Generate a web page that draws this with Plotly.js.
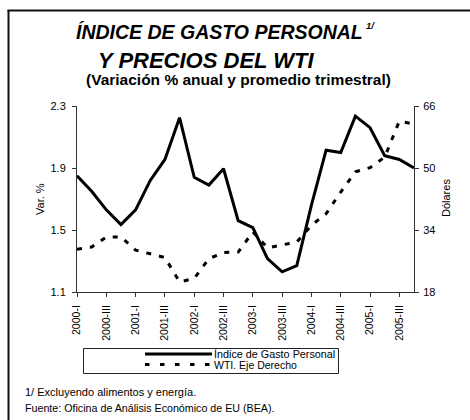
<!DOCTYPE html>
<html>
<head>
<meta charset="utf-8">
<script src="https://cdn.plot.ly/plotly-3.0.1.min.js"></script>
<style>
html,body{margin:0;padding:0;background:#fff;}
#chart{width:470px;height:420px;}
</style>
</head>
<body>
<div id="chart"></div>
<script>
// ---- data ----
const categories = [
  "2000-I","2000-II","2000-III","2000-IV",
  "2001-I","2001-II","2001-III","2001-IV",
  "2002-I","2002-II","2002-III","2002-IV",
  "2003-I","2003-II","2003-III","2003-IV",
  "2004-I","2004-II","2004-III","2004-IV",
  "2005-I","2005-II","2005-III","2005-IV"
];
const gastoPersonal = [1.85, 1.75, 1.63, 1.535, 1.63, 1.82, 1.955, 2.225,
  1.84, 1.79, 1.895, 1.56, 1.515, 1.315, 1.23, 1.27,
  1.66, 2.015, 2.0, 2.235, 2.16, 1.98, 1.955, 1.9];
const wti = [29.0, 29.6, 32.2, 32.2, 28.8, 27.9, 26.9, 20.6,
  21.5, 26.6, 28.2, 28.3, 33.5, 29.4, 30.2, 30.9,
  35.2, 38.2, 43.8, 49.0, 50.1, 52.8, 62.1, 61.3];
const xTickLabels = ["2000-I","2000-III","2001-I","2001-III","2002-I","2002-III",
  "2003-I","2003-III","2004-I","2004-III","2005-I","2005-III"];
const leftTicks = [1.1, 1.5, 1.9, 2.3];
const rightTicks = [18, 34, 50, 66];

const FONT = 'Arial, "Liberation Sans", Helvetica, sans-serif';
// plot area in pixels
const L = 77, R = 414, T = 106, B = 292;
const W = 470, H = 420;
const px = x => (x - L) / (R - L);
const py = y => (B - y) / (B - T);

const traces = [
  {x: categories, y: gastoPersonal, type: 'scatter', mode: 'lines',
   name: 'Índice de Gasto Personal', line: {color: '#000', width: 3}, yaxis: 'y'},
  {x: categories, y: wti, type: 'scatter', mode: 'lines',
   name: 'WTI. Eje Derecho', line: {color: '#000', width: 3, dash: '5px,8px'}, yaxis: 'y2'}
];

function ann(text, x, y, opts) {
  return Object.assign({text: text, x: px(x), y: py(y), xref: 'paper', yref: 'paper',
    showarrow: false, xanchor: 'left', yanchor: 'middle',
    font: {family: FONT, size: 11, color: '#000'}}, opts || {});
}

const annotations = [
  ann('<b><i>ÍNDICE DE GASTO PERSONAL</i></b>', 74, 32, {font: {family: FONT, size: 19.5, color: '#000'}}),
  ann('<b><i>1/</i></b>', 364, 26, {font: {family: FONT, size: 9.5, color: '#000'}}),
  ann('<b><i>Y PRECIOS DEL WTI</i></b>', 96, 60, {font: {family: FONT, size: 22, color: '#000'}}),
  ann('<b>(Variación % anual y promedio trimestral)</b>', 238, 80, {xanchor: 'center', font: {family: FONT, size: 15.5, color: '#000'}}),
  ann('Var. %', 40, 199, {xanchor: 'center', textangle: -90}),
  ann('Dólares', 446, 198, {xanchor: 'center', textangle: -90}),
  ann('Índice de Gasto Personal', 212, 354, {font: {family: FONT, size: 10.8, color: '#000'}}),
  ann('WTI. Eje Derecho', 212, 365, {font: {family: FONT, size: 10.5, color: '#000'}}),
  ann('1/ Excluyendo alimentos y energía.', 23, 392, {font: {family: FONT, size: 11, color: '#000'}}),
  ann('Fuente: Oficina de Análisis Económico de EU (BEA).', 23, 408, {font: {family: FONT, size: 10.7, color: '#000'}})
];

const shapes = [
  // outer frame (left + top)
  {type: 'line', xref: 'paper', yref: 'paper', x0: px(8.5), x1: px(8.5), y0: py(10), y1: py(425), line: {color: '#111', width: 2}},
  {type: 'line', xref: 'paper', yref: 'paper', x0: px(7.5), x1: px(475), y0: py(10.5), y1: py(10.5), line: {color: '#111', width: 2}},
  // legend box
  {type: 'rect', xref: 'paper', yref: 'paper', x0: px(83.5), x1: px(338.5), y0: py(348.5), y1: py(373.5), line: {color: '#222', width: 1}},
  // legend samples
  {type: 'line', xref: 'paper', yref: 'paper', x0: px(145), x1: px(212), y0: py(354), y1: py(354), line: {color: '#000', width: 3}},
  {type: 'line', xref: 'paper', yref: 'paper', x0: px(145), x1: px(212), y0: py(364.5), y1: py(364.5), line: {color: '#000', width: 3, dash: '4.5px,10.5px'}}
];

const layout = {
  width: W, height: H,
  margin: {l: L, r: W - R, t: T, b: H - B, pad: 0},
  paper_bgcolor: '#fff', plot_bgcolor: '#fff',
  showlegend: false,
  font: {family: FONT, color: '#000'},
  xaxis: {
    type: 'category', categoryorder: 'array', categoryarray: categories,
    range: [0, categories.length - 1],
    tickmode: 'array', tickvals: xTickLabels, ticktext: xTickLabels,
    tickangle: -90, ticks: 'outside', ticklen: 4, tickcolor: '#333',
    showline: true, linecolor: '#333', linewidth: 1,
    showgrid: false, zeroline: false,
    tickfont: {family: FONT, size: 10.5, color: '#000'},
    ticklabelstandoff: 4
  },
  yaxis: {
    range: [1.1, 2.3], tickmode: 'array', tickvals: leftTicks,
    ticktext: leftTicks.map(v => v.toFixed(1)),
    ticks: 'outside', ticklen: 4, tickcolor: '#333',
    showline: true, linecolor: '#333', linewidth: 1,
    showgrid: false, zeroline: false,
    tickfont: {family: FONT, size: 11, color: '#000'},
    ticklabelstandoff: 4
  },
  yaxis2: {
    range: [18, 66], overlaying: 'y', side: 'right',
    tickmode: 'array', tickvals: rightTicks, ticktext: rightTicks.map(String),
    ticks: 'outside', ticklen: 4, tickcolor: '#333',
    showline: true, linecolor: '#333', linewidth: 1,
    showgrid: false, zeroline: false,
    tickfont: {family: FONT, size: 11, color: '#000'},
    ticklabelstandoff: 2
  },
  annotations: annotations,
  shapes: shapes
};

Plotly.newPlot('chart', traces, layout, {staticPlot: true, displayModeBar: false});
</script>
</body>
</html>
